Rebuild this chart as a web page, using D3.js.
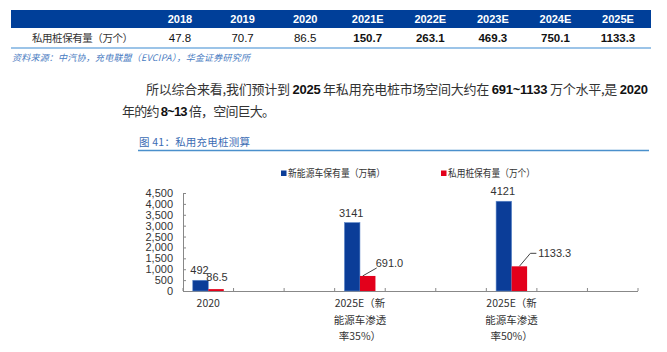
<!DOCTYPE html>
<html><head><meta charset="utf-8">
<script src="https://cdn.jsdelivr.net/npm/d3@7"></script>
<style>
html,body{margin:0;padding:0;background:#fff;}
svg{display:block;}
</style></head>
<body><svg id="c" width="667" height="352"></svg>
<script>
// ---------- data ----------
const tableYears = ["2018","2019","2020","2021E","2022E","2023E","2024E","2025E"];
const tableValues = ["47.8","70.7","86.5","150.7","263.1","469.3","750.1","1133.3"];
const tableBold = [false,false,false,true,true,true,true,true];
const tableRowLabel = "私用桩保有量（万个）";
const sourceText = "资料来源：中汽协，充电联盟（EVCIPA），华金证券研究所";
const captionText = "图 41：私用充电桩测算";
const categories = ["2020","","","2025E（新\n能源车渗透\n率35%）","","","2025E（新\n能源车渗透\n率50%）","",""];
const nevStock = [492,null,null,3141,null,null,4121,null,null];
const pileStock = [86.5,null,null,691.0,null,null,1133.3,null,null];
const seriesNames = ["新能源车保有量（万辆）","私用桩保有量（万个）"];
const yTicks = [0,500,1000,1500,2000,2500,3000,3500,4000,4500];

const BLUE="#0b3d98", RED="#e3001b";
const CJK = "'Noto Sans CJK SC','Liberation Sans',sans-serif";
const LAT = "'Liberation Sans',Arial,sans-serif";

const svg = d3.select("#c");

// ---------- table ----------
const colX = d3.scalePoint().domain(tableYears).range([180,618]);
svg.append("rect").attr("x",11).attr("y",10).attr("width",640).attr("height",18).attr("fill","#003f99");
svg.selectAll("text.hd").data(tableYears).join("text").attr("class","hd")
  .attr("x",d=>colX(d)).attr("y",23).attr("text-anchor","middle")
  .attr("font-family",LAT).attr("font-weight","bold").attr("font-size",11).attr("fill","#fff").text(d=>d);
svg.append("text").attr("x",32).attr("y",42).attr("font-family",CJK).attr("font-size",10.5)
  .attr("fill","#333").attr("textLength",101).attr("lengthAdjust","spacing").text(tableRowLabel);
svg.selectAll("text.val").data(tableValues).join("text").attr("class","val")
  .attr("x",(d,i)=>colX(tableYears[i])).attr("y",42).attr("text-anchor","middle")
  .attr("font-family",LAT).attr("font-size",11.5).attr("font-weight",(d,i)=>tableBold[i]?"bold":"normal")
  .attr("fill","#111").text(d=>d);
svg.append("line").attr("x1",11).attr("x2",651).attr("y1",48).attr("y2",48).attr("stroke","#9cc4e8").attr("stroke-width",2);
svg.append("text").attr("x",12).attr("y",61).attr("font-family",CJK).attr("font-style","italic")
  .attr("font-size",9).attr("fill","#4a7cc2").attr("textLength",238).attr("lengthAdjust","spacing").text(sourceText);

// ---------- paragraph ----------
function para(x,y,len,parts){
  const t = svg.append("text").attr("x",x).attr("y",y).attr("font-size",13).attr("fill","#222")
    .attr("textLength",len).attr("lengthAdjust","spacing");
  parts.forEach(p=>{
    t.append("tspan").attr("font-family",p[1]?LAT:CJK).attr("font-weight",p[1]?"bold":"normal")
     .attr("fill",p[1]?"#111":"#333").text(p[0]);
  });
}
para(146,94,502,[["所以综合来看,我们预计到 ",0],["2025",1],[" 年私用充电桩市场空间大约在 ",0],["691~1133",1],[" 万个水平,是 ",0],["2020",1]]);
para(122,116,153,[["年的约 ",0],["8~13",1],[" 倍，空间巨大。",0]]);

// ---------- caption ----------
svg.append("text").attr("x",139).attr("y",146).attr("font-family",CJK).attr("font-size",10.5)
  .attr("fill","#3b6cb4").attr("textLength",111).attr("lengthAdjust","spacing").text(captionText);
svg.append("line").attr("x1",138).attr("x2",649).attr("y1",150.5).attr("y2",150.5).attr("stroke","#4a90cc").attr("stroke-width",1.5);

// ---------- chart ----------
const x0 = d3.scaleBand().domain(d3.range(categories.length)).range([183,638]).padding(0);
const x1 = d3.scaleBand().domain([0,1]).range([x0.bandwidth()/2-15.5, x0.bandwidth()/2+15.5]).padding(0);
const y = d3.scaleLinear().domain([0,4500]).range([291,193]);

// y axis
const yAxis = svg.append("g").attr("transform","translate(183,0)")
  .call(d3.axisLeft(y).tickValues(yTicks).tickFormat(d3.format(",")).tickSizeInner(-3).tickSizeOuter(0).tickPadding(10));
yAxis.select(".domain").attr("stroke","#888");
yAxis.selectAll(".tick line").attr("stroke","#888");
yAxis.selectAll("text").attr("font-family",LAT).attr("font-size",11).attr("fill","#333");

// x axis line + ticks at band boundaries
svg.append("line").attr("x1",183).attr("x2",638).attr("y1",y(0)+0.5).attr("y2",y(0)+0.5).attr("stroke","#888");
const bounds = d3.range(categories.length+1).map(i=>183+i*x0.step());
svg.selectAll("line.xt").data(bounds).join("line").attr("class","xt")
  .attr("x1",d=>d).attr("x2",d=>d).attr("y1",y(0)).attr("y2",y(0)-3).attr("stroke","#888");

// bars
const rows = categories.map((c,i)=>({i, vals:[nevStock[i],pileStock[i]]})).filter(r=>r.vals[0]!=null);
const colors=[BLUE,RED];
rows.forEach(r=>{
  r.vals.forEach((v,k)=>{
    svg.append("rect").attr("x",x0(r.i)+x1(k)).attr("width",x1.bandwidth())
      .attr("y",y(v)).attr("height",y(0)-y(v)).attr("fill",colors[k])
      .attr("stroke",k===0?"#5b86c9":"none").attr("stroke-width",k===0?0.6:0);
  });
});

// value labels
const fmtN = d=>String(d);
const fmtP = d=>d3.format(".1f")(d);
rows.forEach(r=>{
  const bcB = x0(r.i)+x1(0)+x1.bandwidth()/2;
  const bcR = x0(r.i)+x1(1)+x1.bandwidth()/2;
  const tB = y(r.vals[0]), tR = y(r.vals[1]);
  svg.append("text").attr("x",bcB-1).attr("y",tB-6).attr("text-anchor","middle")
    .attr("font-family",LAT).attr("font-size",11).attr("fill","#333").text(fmtN(r.vals[0]));
  if(r.i===0){
    svg.append("text").attr("x",bcR+1).attr("y",tR-8).attr("text-anchor","middle")
      .attr("font-family",LAT).attr("font-size",11).attr("fill","#333").text(fmtP(r.vals[1]));
  } else if(r.i===3){
    svg.append("polyline").attr("points",[[bcR-5,tR],[bcR+9,tR-8]].join(" ")).attr("fill","none").attr("stroke","#444").attr("stroke-width",1);
    svg.append("text").attr("x",bcR+8).attr("y",tR-9).attr("font-family",LAT).attr("font-size",11).attr("fill","#333").text(fmtP(r.vals[1]));
  } else {
    svg.append("polyline").attr("points",[[bcR,tR],[bcR+11,tR-13],[bcR+17,tR-13]].join(" ")).attr("fill","none").attr("stroke","#444").attr("stroke-width",1);
    svg.append("text").attr("x",bcR+19).attr("y",tR-9).attr("font-family",LAT).attr("font-size",11).attr("fill","#333").text(fmtP(r.vals[1]));
  }
});

// category labels
categories.forEach((c,i)=>{
  if(!c) return;
  const lines=c.split("\n");
  const t=svg.append("text").attr("text-anchor","middle").attr("font-family",CJK).attr("font-size",10.5).attr("fill","#333");
  lines.forEach((l,j)=>t.append("tspan").attr("x",x0(i)+x0.bandwidth()/2).attr("y",307+j*16.5).text(l));
});

// legend
const legX=[281,441], legLen=[97,87];
seriesNames.forEach((s,k)=>{
  svg.append("rect").attr("x",legX[k]).attr("y",170.5).attr("width",5.5).attr("height",5.5).attr("fill",colors[k]);
  svg.append("text").attr("x",legX[k]+7).attr("y",177).attr("font-family",CJK).attr("font-size",10)
    .attr("fill","#333").attr("textLength",legLen[k]).attr("lengthAdjust","spacingAndGlyphs").text(s);
});
</script></body></html>
